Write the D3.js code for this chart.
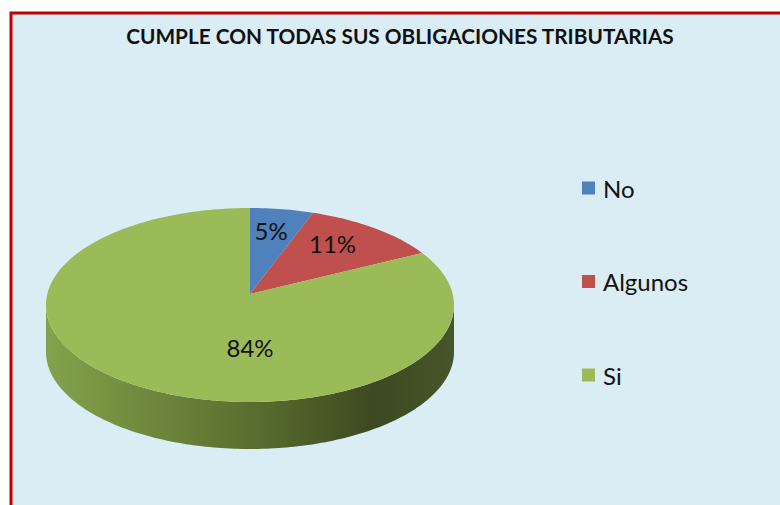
<!DOCTYPE html>
<html>
<head>
  <meta charset="utf-8">
  <style>
    body { margin: 0; background: #fff; }
    text { font-family: Lato, "Open Sans", sans-serif; fill: #111; }
    .title { font-weight: bold; font-size: 20.8px; }
    .lbl { font-size: 24px; }
    .leg { font-size: 24px; }
  </style>
</head>
<body>
  <script src="https://d3js.org/d3.v7.min.js"></script>
  <script>
    var categories = ["No", "Algunos", "Si"];
    var values = [5, 11, 84];
    var colors = ["#4F81BD", "#C0504D", "#9BBB59"];
    var title = "CUMPLE CON TODAS SUS OBLIGACIONES TRIBUTARIAS";

    var W = 780, H = 505;
    var svg = d3.select("body").append("svg")
        .attr("width", W)
        .attr("height", H);

    // side gradient of the 3d pie
    var grad = svg.append("defs").append("linearGradient")
        .attr("id", "side")
        .attr("x1", "0%").attr("x2", "100%").attr("y1", "0%").attr("y2", "0%");
    grad.append("stop").attr("offset", "0%").attr("stop-color", "#84A24B");
    grad.append("stop").attr("offset", "50%").attr("stop-color", "#5A6F2F");
    grad.append("stop").attr("offset", "80%").attr("stop-color", "#3D4A21");
    grad.append("stop").attr("offset", "100%").attr("stop-color", "#46552A");

    // chart area with red frame
    svg.append("rect")
        .attr("x", 11).attr("y", 13)
        .attr("width", W).attr("height", H)
        .attr("fill", "#DAEDF4")
        .attr("stroke", "#C00000")
        .attr("stroke-width", 3);

    svg.append("text")
        .attr("class", "title")
        .attr("x", 400).attr("y", 44)
        .attr("text-anchor", "middle")
        .text(title);

    var cx = 250, cy = 305, rx = 204, ry = 97, depth = 47, apexY = 294;

    function pt(t, f, yc) {
      return [cx + f * rx * Math.sin(t), yc - f * ry * Math.cos(t)];
    }

    var pie = d3.pie().sort(null).value(function(d) { return d; });
    var arcs = pie(values);

    var line = d3.line();

    function sample(a0, a1, yc) {
      var n = Math.max(2, Math.ceil((a1 - a0) / 0.02));
      return d3.range(n + 1).map(function(i) { return pt(a0 + (a1 - a0) * i / n, 1, yc); });
    }

    // visible side (front half of the ellipse)
    var g = svg.append("g");
    arcs.forEach(function(a, i) {
      var s0 = Math.max(a.startAngle, Math.PI / 2),
          s1 = Math.min(a.endAngle, Math.PI * 3 / 2);
      if (s1 <= s0) return;
      var top = sample(s0, s1, cy);
      var bot = sample(s0, s1, cy + depth).reverse();
      g.append("path")
          .attr("d", line(top.concat(bot)) + "Z")
          .attr("fill", "url(#side)");
    });

    // top face
    g.selectAll(".slice")
      .data(arcs)
      .enter().append("path")
        .attr("class", "slice")
        .attr("d", function(a) {
          return line([[cx, apexY]].concat(sample(a.startAngle, a.endAngle, cy))) + "Z";
        })
        .attr("fill", function(a, i) { return colors[i]; });

    var total = d3.sum(values);
    g.selectAll(".lbl")
      .data(arcs)
      .enter().append("text")
        .attr("class", "lbl")
        .attr("text-anchor", "middle")
        .attr("dominant-baseline", "central")
        .attr("transform", function(a) {
          var m = (a.startAngle + a.endAngle) / 2;
          var p = a.value / total > 0.5 ? [cx, apexY + ry * 0.55] : pt(m, 0.66, apexY);
          return "translate(" + p[0] + "," + p[1] + ")";
        })
        .text(function(a) { return Math.round(a.value / total * 100) + "%"; });

    // legend
    var ly = d3.scalePoint().domain(categories).range([188, 375]);
    var leg = svg.selectAll(".legitem")
      .data(categories)
      .enter().append("g")
        .attr("class", "legitem")
        .attr("transform", function(d) { return "translate(582," + ly(d) + ")"; });
    leg.append("rect")
        .attr("x", 0).attr("y", -6.5)
        .attr("width", 13).attr("height", 13)
        .attr("fill", function(d, i) { return colors[i]; });
    leg.append("text")
        .attr("class", "leg")
        .attr("x", 21).attr("y", 0)
        .attr("dominant-baseline", "central")
        .text(function(d) { return d; });
  </script>
</body>
</html>
